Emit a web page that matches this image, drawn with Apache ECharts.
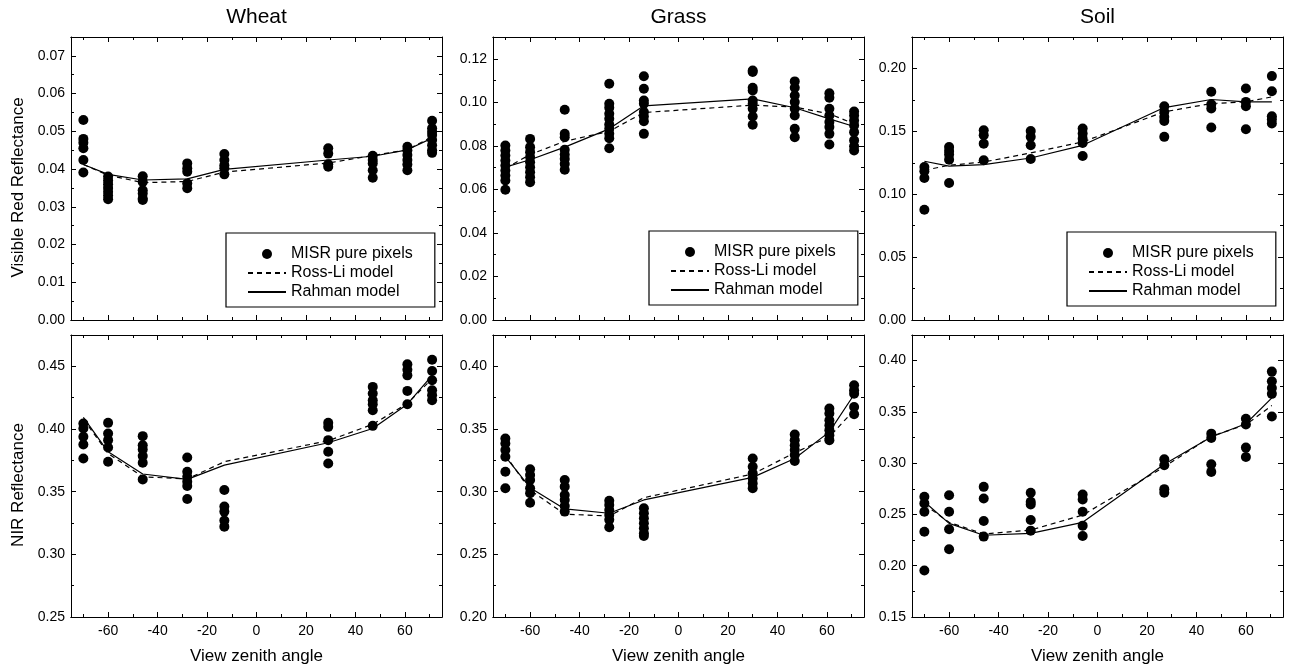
<!DOCTYPE html>
<html><head><meta charset="utf-8">
<script src="https://cdn.jsdelivr.net/npm/echarts@6/dist/echarts.min.js"></script>
<style>html,body{margin:0;padding:0;background:#fff}#c{width:1292px;height:670px}</style>
</head><body><div id="c"></div>
<script>
// ---------- data ----------
const panelTitles = ['Wheat', 'Grass', 'Soil'];
const seriesNames = ['MISR pure pixels', 'Ross-Li model', 'Rahman model'];
const xAxisName = 'View zenith angle';
const yAxisNames = ['Visible Red Reflectance', 'NIR Reflectance'];
const xTickLabels = [-60, -40, -20, 0, 20, 40, 60];
const xMinorTicks = [-70, -50, -30, -10, 10, 30, 50, 70];

const wheatAngles = [-70, -60, -46, -28, -13, 29, 47, 61, 71];
const grassAngles = [-70, -60, -46, -28, -14, 30, 47, 61, 71];
const soilAngles  = [-70, -60, -46, -27, -6, 27, 46, 60, 70.5];

// Visible red
const wheatRedDots = [
  [0.053, 0.048, 0.047, 0.0455, 0.0424, 0.0391],
  [0.038, 0.037, 0.036, 0.035, 0.034, 0.033, 0.032],
  [0.0381, 0.0366, 0.0344, 0.0335, 0.0322, 0.0318],
  [0.0415, 0.0402, 0.0393, 0.0362, 0.0349],
  [0.044, 0.0424, 0.041, 0.0402, 0.0386],
  [0.0455, 0.0441, 0.0413, 0.0406],
  [0.0435, 0.0424, 0.0415, 0.0397, 0.0377],
  [0.0459, 0.045, 0.0437, 0.0424, 0.0412, 0.0397],
  [0.0528, 0.0508, 0.0499, 0.049, 0.0477, 0.0463, 0.045, 0.0443]
];
const wheatRedRossLi = [0.0412, 0.0384, 0.0364, 0.0367, 0.0392, 0.0416, 0.0436, 0.0451, 0.0486];
const wheatRedRahman = [0.0412, 0.0386, 0.0371, 0.0374, 0.0399, 0.0424, 0.0434, 0.0451, 0.0482];

const grassRedDots = [
  [0.0802, 0.0779, 0.0756, 0.0733, 0.071, 0.0687, 0.0664, 0.0641, 0.0598],
  [0.0832, 0.0794, 0.0771, 0.0748, 0.0725, 0.0702, 0.0679, 0.0656, 0.0633],
  [0.0966, 0.0855, 0.084, 0.0782, 0.076, 0.074, 0.0717, 0.069],
  [0.1085, 0.0993, 0.0975, 0.0947, 0.0924, 0.0898, 0.0878, 0.0855, 0.0835, 0.0789],
  [0.112, 0.1062, 0.1008, 0.0993, 0.0955, 0.0935, 0.0913, 0.0855],
  [0.1146, 0.1139, 0.1067, 0.1054, 0.1008, 0.0993, 0.097, 0.0935, 0.0897],
  [0.1096, 0.1067, 0.1031, 0.1001, 0.097, 0.0939, 0.0878, 0.084],
  [0.1042, 0.1021, 0.097, 0.0939, 0.0909, 0.0886, 0.0855, 0.0806],
  [0.0958, 0.0939, 0.0916, 0.0894, 0.0863, 0.0825, 0.0798, 0.0779]
];
const grassRedRossLi = [0.0697, 0.076, 0.0821, 0.0867, 0.0953, 0.0987, 0.0978, 0.0947, 0.0901];
const grassRedRahman = [0.0702, 0.0736, 0.0794, 0.0878, 0.0984, 0.1016, 0.0975, 0.0924, 0.0889];

const soilRedDots = [
  [0.1216, 0.1182, 0.1129, 0.0876],
  [0.1376, 0.1344, 0.1315, 0.1275, 0.1089],
  [0.1509, 0.1469, 0.1402, 0.127],
  [0.1503, 0.1456, 0.1389, 0.128],
  [0.1522, 0.1482, 0.1442, 0.1408, 0.1304],
  [0.17, 0.1655, 0.1615, 0.1583, 0.1456],
  [0.1814, 0.1716, 0.1681, 0.153],
  [0.1841, 0.1734, 0.17, 0.1517],
  [0.1939, 0.1819, 0.162, 0.1594, 0.1562]
];
const soilRedRossLi = [0.119, 0.123, 0.1256, 0.1328, 0.1416, 0.1655, 0.1721, 0.1734, 0.1774];
const soilRedRahman = [0.1262, 0.1224, 0.1235, 0.1288, 0.1389, 0.1689, 0.1753, 0.1734, 0.1734];

// NIR
const wheatNirDots = [
  [0.4044, 0.4004, 0.3938, 0.3877, 0.3765],
  [0.4049, 0.3964, 0.3911, 0.3853, 0.3739],
  [0.3943, 0.3871, 0.3837, 0.3784, 0.3731, 0.3598],
  [0.3773, 0.3659, 0.3619, 0.358, 0.3545, 0.3442],
  [0.3513, 0.3381, 0.3341, 0.3269, 0.3221],
  [0.4049, 0.4017, 0.3911, 0.3818, 0.3725],
  [0.4336, 0.4283, 0.4229, 0.4198, 0.415, 0.4025],
  [0.4516, 0.4473, 0.4428, 0.4304, 0.4198],
  [0.4553, 0.4463, 0.4389, 0.4309, 0.4269, 0.4229]
];
const wheatNirRossLi = [0.408, 0.3805, 0.3619, 0.3601, 0.3739, 0.3906, 0.4038, 0.4203, 0.4402];
const wheatNirRahman = [0.4092, 0.3818, 0.3641, 0.3598, 0.3712, 0.389, 0.4004, 0.4198, 0.4428];

const grassNirDots = [
  [0.3424, 0.3385, 0.3332, 0.3279, 0.3159, 0.3027],
  [0.3178, 0.3133, 0.3093, 0.3027, 0.2987, 0.2912],
  [0.3093, 0.304, 0.2973, 0.2934, 0.2886, 0.2841],
  [0.2928, 0.2894, 0.2854, 0.2814, 0.2775, 0.2716],
  [0.2867, 0.2828, 0.2788, 0.2748, 0.2708, 0.2668, 0.2647],
  [0.3265, 0.3199, 0.3146, 0.3106, 0.3066, 0.3027],
  [0.3456, 0.3411, 0.3371, 0.3332, 0.3292, 0.3244],
  [0.3663, 0.3623, 0.357, 0.353, 0.3491, 0.3451, 0.3411],
  [0.3849, 0.3809, 0.3782, 0.3676, 0.3618]
];
const grassNirRossLi = [0.3292, 0.3013, 0.282, 0.2806, 0.2952, 0.3141, 0.331, 0.3438, 0.365];
const grassNirRahman = [0.3279, 0.3032, 0.2862, 0.2828, 0.2934, 0.3114, 0.3265, 0.3477, 0.3775];

const soilNirDots = [
  [0.2672, 0.2608, 0.2527, 0.2332, 0.1953],
  [0.2688, 0.2527, 0.2355, 0.2161],
  [0.2769, 0.2656, 0.2436, 0.2284],
  [0.2711, 0.2624, 0.2598, 0.2446, 0.2342],
  [0.2695, 0.2646, 0.2527, 0.2391, 0.229],
  [0.3038, 0.298, 0.2747, 0.2711],
  [0.3288, 0.3245, 0.299, 0.2915],
  [0.3433, 0.3378, 0.3152, 0.3061],
  [0.3893, 0.3799, 0.3734, 0.3676, 0.3456]
];
const soilNirRossLi = [0.2598, 0.2423, 0.231, 0.2348, 0.2494, 0.2964, 0.3262, 0.3375, 0.3563];
const soilNirRahman = [0.2624, 0.2413, 0.2297, 0.2316, 0.2423, 0.299, 0.3255, 0.3385, 0.3637];

// axis ranges (row-major: top row Wheat/Grass/Soil, bottom row Wheat/Grass/Soil)
const xMin = -75, xMax = 75;
const yMins      = [0, 0, 0, 0.25, 0.20, 0.15];
const yMaxs      = [0.075, 0.13, 0.225, 0.475, 0.425, 0.425];
const yIntervals = [0.01, 0.02, 0.05, 0.05, 0.05, 0.05];

// ---------- build ----------
const FONT = '"Liberation Sans", Arial, Helvetica, sans-serif';
const panels = [
  [wheatAngles, wheatRedDots, wheatRedRossLi, wheatRedRahman],
  [grassAngles, grassRedDots, grassRedRossLi, grassRedRahman],
  [soilAngles, soilRedDots, soilRedRossLi, soilRedRahman],
  [wheatAngles, wheatNirDots, wheatNirRossLi, wheatNirRahman],
  [grassAngles, grassNirDots, grassNirRossLi, grassNirRahman],
  [soilAngles, soilNirDots, soilNirRossLi, soilNirRahman]
];
const gridLefts = [71, 493, 912];
const gridWidth = 371;
const gridTops = [37, 335];
const gridHeights = [283, 282];

const blk = { color: '#000', width: 1 };
const tickStyle = { inside: true, length: 5, lineStyle: blk };
const minorStyle = { show: true, splitNumber: 2, length: 3, lineStyle: blk };
const axLine = { show: true, onZero: false, lineStyle: blk };
const labelFont = { color: '#000', fontSize: 14, fontFamily: FONT };

const grids = [], xAxes = [], yAxes = [], series = [], legends = [], graphics = [];

function xAx(i, pos, values, len, withLabels, name) {
  return {
    type: 'value', gridIndex: i, position: pos, min: xMin, max: xMax,
    axisLine: axLine,
    axisTick: { show: true, inside: true, length: len, lineStyle: blk, customValues: values },
    splitLine: { show: false },
    axisLabel: withLabels
      ? Object.assign({ show: true, margin: 7, customValues: values, formatter: v => String(v) }, labelFont)
      : { show: false },
    name: name || '', nameLocation: 'middle', nameGap: 31,
    nameTextStyle: { color: '#000', fontSize: 17, fontFamily: FONT }
  };
}

panels.forEach((p, i) => {
  const row = Math.floor(i / 3), col = i % 3;
  grids.push({ left: gridLefts[col], top: gridTops[row], width: gridWidth, height: gridHeights[row] });
  const bottomRow = row === 1;
  xAxes.push(xAx(i, 'bottom', xTickLabels, 5, bottomRow, bottomRow ? xAxisName : ''));
  xAxes.push(xAx(i, 'bottom', xMinorTicks, 3, false, ''));
  xAxes.push(xAx(i, 'top', xTickLabels, 5, false, ''));
  xAxes.push(xAx(i, 'top', xMinorTicks, 3, false, ''));
  yAxes.push({
    type: 'value', gridIndex: i, position: 'left', min: yMins[i], max: yMaxs[i], interval: yIntervals[i],
    axisLine: axLine, axisTick: tickStyle, minorTick: minorStyle,
    splitLine: { show: false }, minorSplitLine: { show: false },
    axisLabel: Object.assign({ margin: 6, showMaxLabel: false, formatter: v => v.toFixed(2) }, labelFont),
    name: col === 0 ? yAxisNames[row] : '', nameLocation: 'middle', nameGap: 44,
    nameTextStyle: { color: '#000', fontSize: 17, fontFamily: FONT, padding: [0, 18, 0, 0] }
  });
  yAxes.push({
    type: 'value', gridIndex: i, position: 'right', min: yMins[i], max: yMaxs[i], interval: yIntervals[i],
    axisLine: axLine, axisTick: tickStyle, minorTick: minorStyle,
    splitLine: { show: false }, axisLabel: { show: false }
  });

  const [angles, dots, ross, rahman] = p;
  const pts = [];
  angles.forEach((a, k) => dots[k].forEach(v => pts.push([a, v])));
  series.push({
    name: seriesNames[0], type: 'scatter', xAxisIndex: 4 * i, yAxisIndex: 2 * i,
    data: pts, symbol: 'circle', symbolSize: 10, itemStyle: { color: '#000', opacity: 1 }, silent: true, z: 2
  });
  series.push({
    name: seriesNames[1], type: 'line', xAxisIndex: 4 * i, yAxisIndex: 2 * i,
    data: angles.map((a, k) => [a, ross[k]]), symbol: 'none', silent: true, z: 3,
    lineStyle: { color: '#000', width: 1.2, type: [5, 4] }, itemStyle: { color: '#000' }
  });
  series.push({
    name: seriesNames[2], type: 'line', xAxisIndex: 4 * i, yAxisIndex: 2 * i,
    data: angles.map((a, k) => [a, rahman[k]]), symbol: 'none', silent: true, z: 3,
    lineStyle: { color: '#000', width: 1.2, type: 'solid' }, itemStyle: { color: '#000' }
  });
});

const legendLefts = [226, 649, 1067];
const legendTops = [233, 231, 232];
panelTitles.forEach((t, c) => {
  graphics.push({
    type: 'text', x: gridLefts[c] + gridWidth / 2, y: 17,
    style: { text: t, fill: '#000', font: '21px ' + FONT, align: 'center', verticalAlign: 'middle' }
  });
  legends.push({
    left: legendLefts[c], top: legendTops[c], orient: 'vertical',
    data: [
      { name: seriesNames[0], icon: 'circle' },
      { name: seriesNames[1], itemStyle: { opacity: 0 } },
      { name: seriesNames[2], itemStyle: { opacity: 0 } }
    ],
    itemWidth: 38, itemHeight: 10, itemGap: 3,
    padding: [13, 22, 7, 21],
    borderColor: '#000', borderWidth: 1.2, backgroundColor: '#fff',
    textStyle: { color: '#000', fontSize: 16, fontFamily: FONT },
    selectedMode: false, inactiveColor: '#000'
  });
});

const chart = echarts.init(document.getElementById('c'), null, { renderer: 'canvas' });
chart.setOption({
  animation: false,
  backgroundColor: '#fff',
  grid: grids, xAxis: xAxes, yAxis: yAxes, series: series,
  legend: legends, graphic: graphics
});
</script></body></html>
